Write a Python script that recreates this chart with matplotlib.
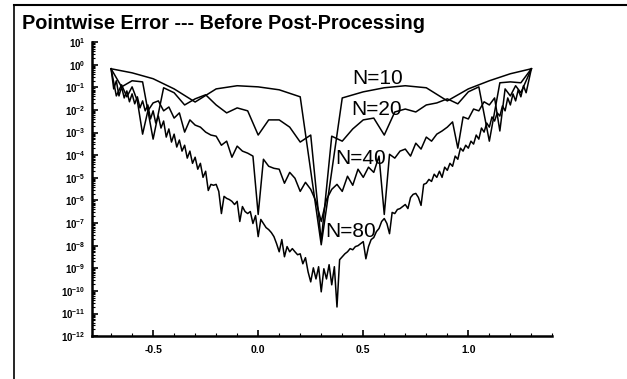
import matplotlib.pyplot as plt
import numpy as np
from matplotlib.lines import Line2D
from matplotlib.ticker import LogLocator, MultipleLocator, FuncFormatter

plt.rcParams['font.family'] = 'Liberation Sans'
plt.rcParams['mathtext.fontset'] = 'custom'
plt.rcParams['mathtext.rm'] = 'Liberation Sans'
plt.rcParams['mathtext.bf'] = 'Liberation Sans:bold'

# pointwise error (log10) on uniform grids over [-0.7, 1.3]
x10 = np.linspace(-0.7, 1.3, 21)
log_err10 = [-0.18, -0.36, -0.62, -1.07, -1.65, -1.07, -0.93, -0.98, -1.11, -1.42,
             -7.96, -1.47, -1.20, -1.02, -0.93, -1.02, -1.60, -1.07, -0.71, -0.40,
             -0.18]

x20 = np.linspace(-0.7, 1.3, 41)
log_err20 = [-0.18, -0.98, -0.71, -0.76, -3.29, -1.02, -1.24, -1.78, -1.51, -1.33,
             -1.78, -2.13, -1.91, -2.04, -3.11, -2.44, -2.44, -2.76, -3.42, -3.11,
             -7.80, -3.16, -3.38, -2.84, -2.44, -2.36, -3.11, -2.09, -1.96, -2.09,
             -1.78, -1.69, -1.51, -1.73, -1.20, -0.98, -3.38, -0.80, -0.76, -0.80,
             -0.18]

x40 = np.linspace(-0.7, 1.3, 81)
log_err40 = [-0.18, -1.38, -0.89, -1.42, -0.98, -1.60, -3.07, -2.04, -1.69, -1.60,
             -2.04, -1.87, -2.36, -2.13, -2.98, -2.44, -2.67, -2.76, -2.98, -3.11,
             -3.16, -3.56, -3.38, -4.09, -3.60, -3.82, -3.91, -4.04, -6.62, -4.18,
             -4.49, -4.58, -4.62, -5.24, -4.76, -5.02, -5.60, -5.20, -5.51, -6.04,
             -6.93, -5.96, -5.51, -5.29, -5.60, -4.93, -5.33, -4.62, -4.98, -4.53,
             -4.76, -4.04, -6.62, -3.96, -4.13, -3.82, -3.73, -4.04, -3.47, -3.73,
             -3.20, -3.38, -3.07, -2.93, -2.76, -2.53, -3.69, -2.31, -2.40, -1.96,
             -2.04, -1.64, -1.78, -1.47, -2.93, -1.07, -1.38, -0.93, -1.24, -0.71,
             -0.18]

x80 = np.linspace(-0.7, 1.3, 161)
log_err80 = [-0.18, -1.07, -0.71, -1.38, -0.98, -1.47, -1.16, -1.64, -1.29, -1.73,
             -1.42, -1.91, -1.60, -2.04, -1.78, -2.40, -2.04, -2.58, -2.27, -2.80,
             -2.49, -3.20, -2.84, -3.42, -3.07, -3.64, -3.33, -3.82, -3.56, -4.13,
             -3.82, -4.36, -4.09, -4.62, -4.36, -4.98, -4.71, -5.56, -5.29, -5.33,
             -5.29, -5.60, -6.58, -5.82, -5.91, -5.96, -6.04, -6.18, -6.04, -6.93,
             -6.27, -6.49, -6.58, -6.49, -7.02, -6.67, -7.60, -6.84, -7.02, -7.20,
             -7.29, -7.42, -7.60, -7.91, -8.27, -7.73, -8.49, -8.04, -8.27, -8.13,
             -8.27, -8.40, -8.36, -8.80, -8.53, -9.16, -9.60, -8.98, -9.47, -8.93,
             -10.04, -9.02, -9.47, -8.84, -9.73, -8.93, -10.71, -8.62, -8.49, -8.36,
             -8.27, -8.13, -8.18, -8.04, -8.00, -7.91, -7.82, -8.58, -8.04, -7.73,
             -7.64, -7.38, -7.24, -6.93, -6.80, -7.02, -7.47, -6.53, -6.58, -6.40,
             -6.36, -6.27, -6.18, -6.36, -5.87, -5.73, -5.69, -5.87, -6.22, -5.29,
             -5.24, -5.07, -5.16, -4.84, -4.98, -4.71, -4.98, -4.53, -4.67, -4.36,
             -4.49, -4.04, -4.18, -3.69, -3.82, -3.56, -3.69, -3.38, -3.51, -3.11,
             -3.29, -2.80, -2.98, -2.58, -2.76, -2.31, -2.49, -2.13, -2.27, -1.82,
             -2.04, -1.47, -1.78, -1.29, -1.60, -1.11, -1.42, -0.93, -1.24, -0.71,
             -0.18]

labels = ['N=10', 'N=20', 'N=40', 'N=80']
label_x = [0.448, 0.443, 0.367, 0.319]
label_logy = [-0.62, -1.96, -4.13, -7.38]

fig = plt.figure(figsize=(6.27, 3.79), dpi=100)
ax = fig.add_axes([0.147, 0.113, 0.734, 0.776])

for xs, le in [(x10, log_err10), (x20, log_err20), (x40, log_err40), (x80, log_err80)]:
    ax.plot(xs, 10.0 ** np.array(le), color='black', lw=1.1)

for t, lx, ly in zip(labels, label_x, label_logy):
    ax.text(lx, 10.0 ** ly, t, fontsize=15, ha='left', va='center')

ax.set_yscale('log')
ax.set_ylim(1e-12, 10)
ax.set_xlim(-0.79, 1.40)

ax.spines['top'].set_visible(False)
ax.spines['right'].set_visible(False)
ax.spines['left'].set_linewidth(1.8)
ax.spines['bottom'].set_linewidth(1.8)

ax.yaxis.set_major_locator(LogLocator(base=10, numticks=20))
ax.yaxis.set_minor_locator(LogLocator(base=10, subs=np.arange(2, 10), numticks=20))
ax.yaxis.set_major_formatter(FuncFormatter(
    lambda v, p: r'$\mathbf{10^{%d}}$' % round(np.log10(v))))
ax.xaxis.set_major_locator(MultipleLocator(0.5))
ax.xaxis.set_minor_locator(MultipleLocator(0.1))
ax.xaxis.set_major_formatter(FuncFormatter(lambda v, p: '%.1f' % v))

ax.tick_params(axis='y', which='major', direction='in', length=4, width=1.2,
               labelsize=7, pad=5)
ax.tick_params(axis='y', which='minor', direction='in', length=2.5, width=0.8)
ax.tick_params(axis='x', which='major', direction='in', length=4, width=1.2,
               labelsize=7.5, pad=6)
ax.tick_params(axis='x', which='minor', direction='in', length=2, width=0.8)
for lab in ax.get_xticklabels():
    lab.set_fontweight('bold')

# frame around the panel
fig.add_artist(Line2D([0.022, 1.0], [0.987, 0.987], transform=fig.transFigure,
                      color='black', lw=1.5))
fig.add_artist(Line2D([0.022, 0.022], [0.0, 0.987], transform=fig.transFigure,
                      color='black', lw=1.2))

fig.text(0.035, 1 - 29 / 379, 'Pointwise Error --- Before Post-Processing',
         fontsize=14.3, fontweight='bold', va='baseline', ha='left')

fig.savefig('out.png', dpi=100)
